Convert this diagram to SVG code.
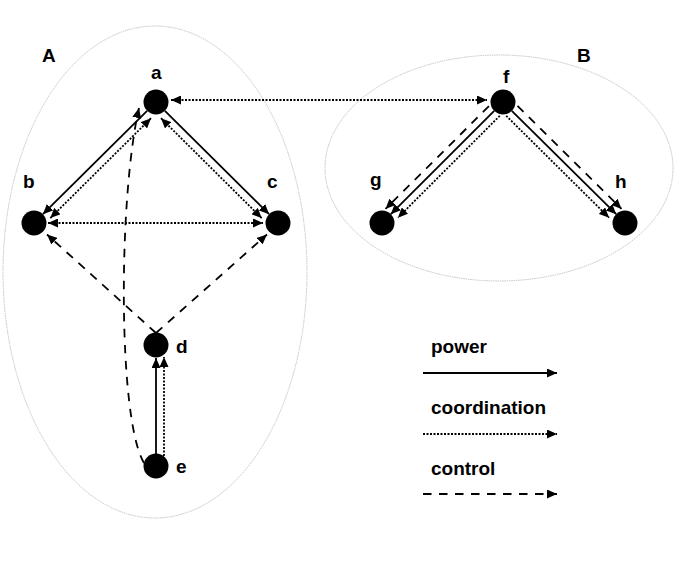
<svg xmlns="http://www.w3.org/2000/svg" width="699" height="568" viewBox="0 0 699 568">
<style>
.grp{fill:none;stroke:#c4c4c4;stroke-width:1;stroke-dasharray:1.5 0.8}
.node{fill:#000}
.lbl{font-family:"Liberation Sans",Arial,sans-serif;font-weight:bold;font-size:19px;fill:#000}
.c{fill:none;stroke:#000;stroke-width:1.8}
.co{stroke-dasharray:2 1.5;stroke-width:1.8}
.ct{stroke-dasharray:8.5 7.5}
.e{marker-end:url(#ah)}
.s{marker-start:url(#ah)}
</style>
<defs>
<marker id="ah" viewBox="0 0 10 9" refX="10" refY="4.5" markerWidth="10" markerHeight="9" markerUnits="userSpaceOnUse" orient="auto-start-reverse">
<path d="M0,0 L10,4.5 L0,9 z" fill="#000"/>
</marker>
</defs>
<rect width="699" height="568" fill="#fff"/>
<g id="groupA">
<ellipse class="grp" cx="155" cy="272" rx="152" ry="246"/>
<text class="lbl" x="42" y="62">A</text>
</g>
<g id="groupB">
<ellipse class="grp" cx="499" cy="168" rx="174" ry="113"/>
<text class="lbl" x="577" y="62">B</text>
</g>
<g id="connectors">
<line class="c e" x1="147.1" y1="110.8" x2="42.9" y2="214.2"/>
<line class="c co e s" x1="151" y1="118.2" x2="50.3" y2="218.1"/>
<line class="c e" x1="164.9" y1="110.8" x2="269.1" y2="214.2"/>
<line class="c co e s" x1="161" y1="118.2" x2="261.7" y2="218.1"/>
<line class="c co e s" x1="48" y1="223" x2="263" y2="223"/>
<line class="c co e s" x1="171" y1="100" x2="487" y2="100"/>
<line class="c ct e" x1="156" y1="333" x2="47" y2="234.5"/>
<line class="c ct e" x1="156" y1="333" x2="267" y2="234.5"/>
<path class="c ct e" d="M144,463 C118,420 118,200 139,108"/>
<line class="c e" x1="156" y1="454" x2="156" y2="358"/>
<line class="c co e" x1="164" y1="456" x2="164" y2="357"/>
<line class="c ct e" x1="488.9" y1="106.2" x2="385.5" y2="208.9"/>
<line class="c e" x1="494.2" y1="110.8" x2="390.8" y2="214.2"/>
<line class="c co e" x1="499.8" y1="115.8" x2="397.9" y2="217.7"/>
<line class="c ct e" x1="517.5" y1="105.9" x2="621.5" y2="208.9"/>
<line class="c e" x1="511.8" y1="110.8" x2="616.2" y2="214.2"/>
<line class="c co e" x1="506.2" y1="115.8" x2="609.1" y2="217.7"/>
</g>
<g id="node-a"><circle class="node" cx="156" cy="102" r="12.5"/><text class="lbl" x="151" y="79">a</text></g>
<g id="node-b"><circle class="node" cx="34" cy="223" r="12.5"/><text class="lbl" x="23" y="188">b</text></g>
<g id="node-c"><circle class="node" cx="278" cy="223" r="12.5"/><text class="lbl" x="267" y="188">c</text></g>
<g id="node-d"><circle class="node" cx="156" cy="345" r="12.5"/><text class="lbl" x="176" y="353">d</text></g>
<g id="node-e"><circle class="node" cx="156" cy="466" r="12.5"/><text class="lbl" x="176" y="473">e</text></g>
<g id="node-f"><circle class="node" cx="503" cy="102" r="12.5"/><text class="lbl" x="503" y="83">f</text></g>
<g id="node-g"><circle class="node" cx="382" cy="223" r="12.5"/><text class="lbl" x="370" y="186">g</text></g>
<g id="node-h"><circle class="node" cx="625" cy="223" r="12.5"/><text class="lbl" x="615" y="188">h</text></g>
<g id="legend">
<text class="lbl" x="431" y="353">power</text>
<line class="c e" x1="423" y1="373" x2="557" y2="373"/>
<text class="lbl" x="431" y="414">coordination</text>
<line class="c co e" x1="423" y1="434" x2="557" y2="434"/>
<text class="lbl" x="431" y="475">control</text>
<line class="c ct e" x1="423" y1="494" x2="557" y2="494"/>
</g>
</svg>
